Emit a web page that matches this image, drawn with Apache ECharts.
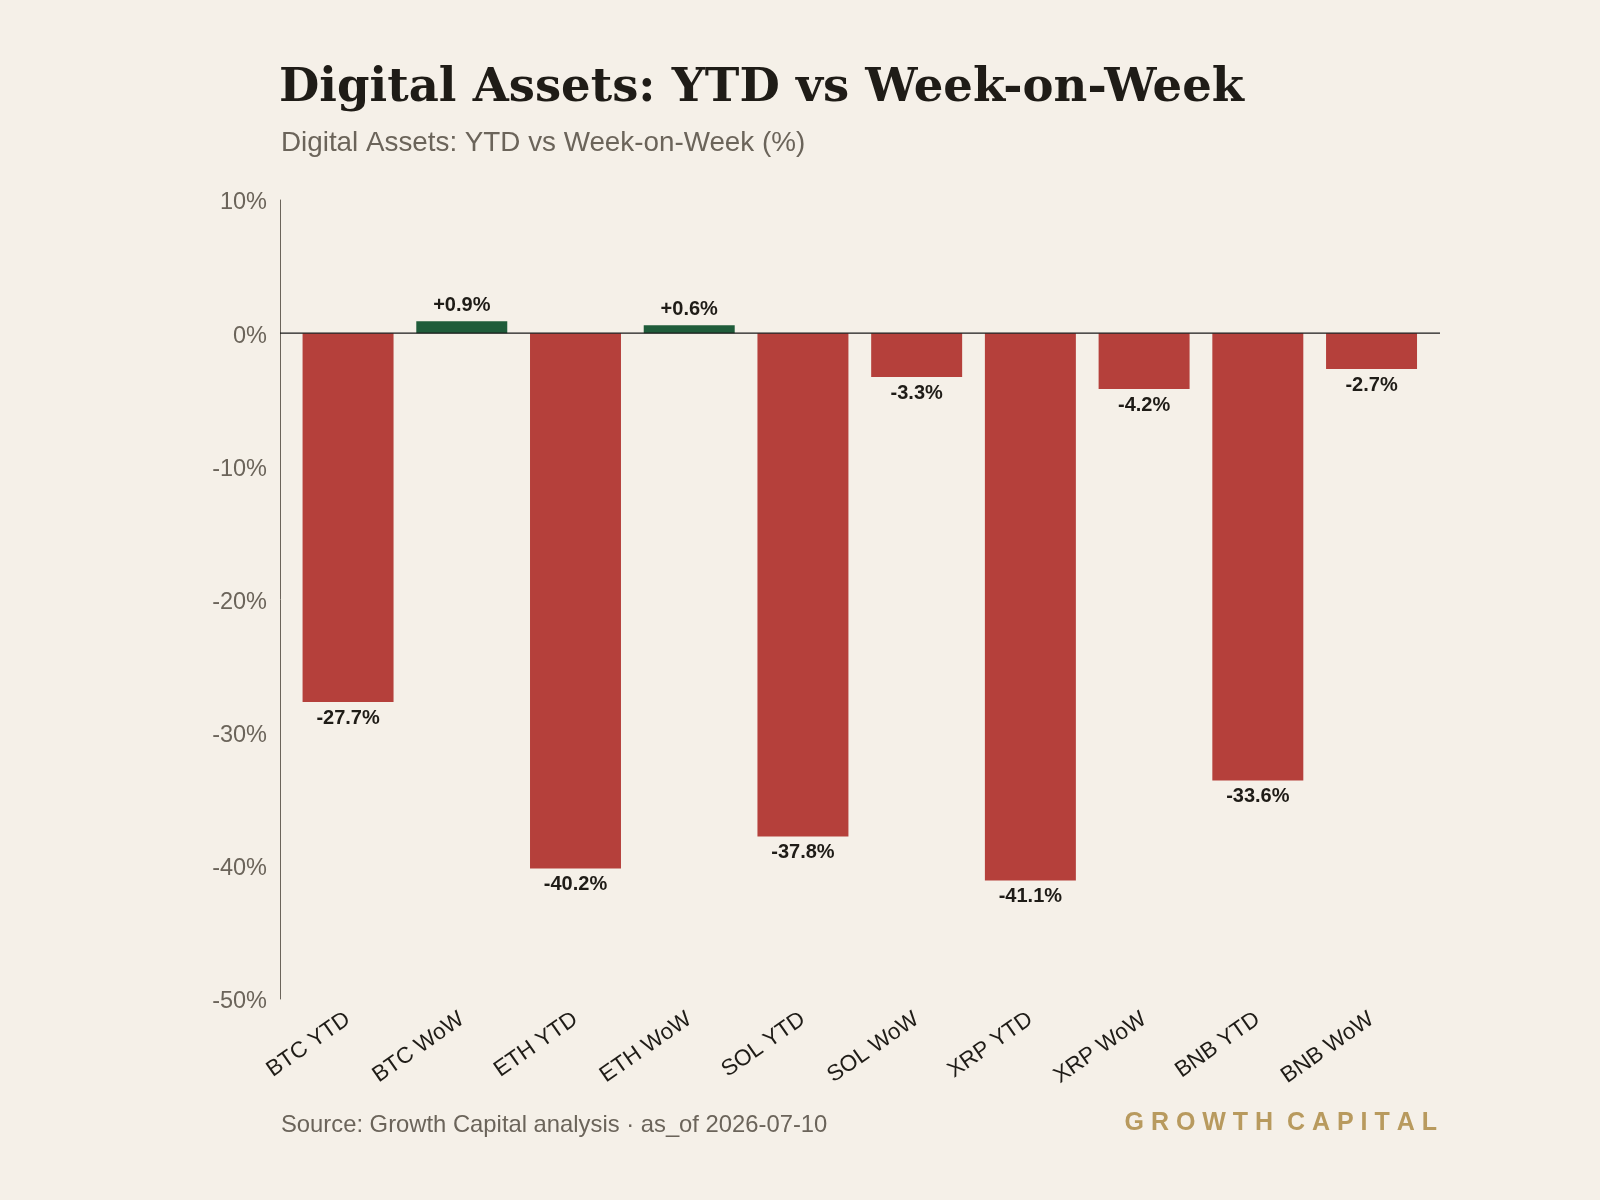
<!DOCTYPE html>
<html>
<head>
<meta charset="utf-8">
<script src="https://cdn.jsdelivr.net/npm/echarts@6/dist/echarts.min.js"></script>
<style>
html,body{margin:0;padding:0;background:#f5f0e8;}
#chart{width:1600px;height:1200px;}
</style>
</head>
<body>
<div id="chart"></div>
<script>
const categories = ["BTC YTD","BTC WoW","ETH YTD","ETH WoW","SOL YTD","SOL WoW","XRP YTD","XRP WoW","BNB YTD","BNB WoW"];
const values = [-27.7, 0.9, -40.2, 0.6, -37.8, -3.3, -41.1, -4.2, -33.6, -2.7];
const yTicks = { min: -50, max: 10, interval: 10 };
const zeroLine = [[0, 0], [1, 0]];

const RED = '#b5403b', GREEN = '#1f5c3a', INK = '#1f1c17', GRAY = '#6b645a';

const chart = echarts.init(document.getElementById('chart'), null, {renderer: 'canvas'});
chart.setOption({
  backgroundColor: '#f5f0e8',
  animation: false,
  title: [
    { text: 'Digital Assets: YTD vs Week-on-Week', left: 274, top: 60,
      textStyle: { fontFamily: 'DejaVu Serif', fontWeight: 'bold', fontSize: 46.5, color: INK } },
    { text: 'Digital Assets: YTD vs Week-on-Week (%)', left: 276, top: 124,
      textStyle: { fontFamily: 'Liberation Sans', fontWeight: 'normal', fontSize: 27.8, color: GRAY } },
    { text: 'Source: Growth Capital analysis · as_of 2026-07-10', left: 276, top: 1108,
      textStyle: { fontFamily: 'Liberation Sans', fontWeight: 'normal', fontSize: 23.8, color: GRAY } },
    { text: 'G R O W T H  C A P I T A L', right: 158, top: 1106,
      textStyle: { fontFamily: 'Liberation Sans', fontWeight: 'bold', fontSize: 25, color: '#b89a5e' } }
  ],
  grid: [
    { left: 280, right: 160, top: 200, bottom: 201, containLabel: false },
    { left: 291.2, right: 171.6, top: 200, bottom: 201, containLabel: false }
  ],
  xAxis: [
    { type: 'value', gridIndex: 0, min: 0, max: 1, show: false },
    { type: 'category', gridIndex: 1, data: categories,
      axisLine: { show: false }, axisTick: { show: false },
      axisLabel: { rotate: 35, margin: 18, fontFamily: 'Liberation Sans', fontSize: 22.5, color: INK, interval: 0 } }
  ],
  yAxis: [
    { type: 'value', gridIndex: 0, min: yTicks.min, max: yTicks.max, interval: yTicks.interval,
      axisLine: { show: true, lineStyle: { color: GRAY, width: 1 } },
      axisTick: { show: false }, splitLine: { show: false },
      axisLabel: { formatter: '{a|{value}%}', margin: 13,
        rich: { a: { padding: [6, 0, 0, 0], fontFamily: 'Liberation Sans', fontSize: 23.5, color: GRAY } } } },
    { type: 'value', gridIndex: 1, min: yTicks.min, max: yTicks.max, interval: yTicks.interval, show: false,
      splitLine: { show: false } }
  ],
  series: [
    { type: 'bar', xAxisIndex: 1, yAxisIndex: 1, barWidth: '80%', z: 2,
      data: values.map(v => ({
        value: v,
        itemStyle: { color: v >= 0 ? GREEN : RED },
        label: { show: true, position: v >= 0 ? 'top' : 'bottom', distance: 6,
          formatter: (v >= 0 ? '+' : '') + v.toFixed(1) + '%',
          fontFamily: 'Liberation Sans', fontWeight: 'bold', fontSize: 20, color: INK }
      }))
    },
    { type: 'line', xAxisIndex: 0, yAxisIndex: 0, data: zeroLine, symbol: 'none', z: 5,
      lineStyle: { color: '#1a1a1a', width: 1.2 }, silent: true }
  ]
});
</script>
</body>
</html>
